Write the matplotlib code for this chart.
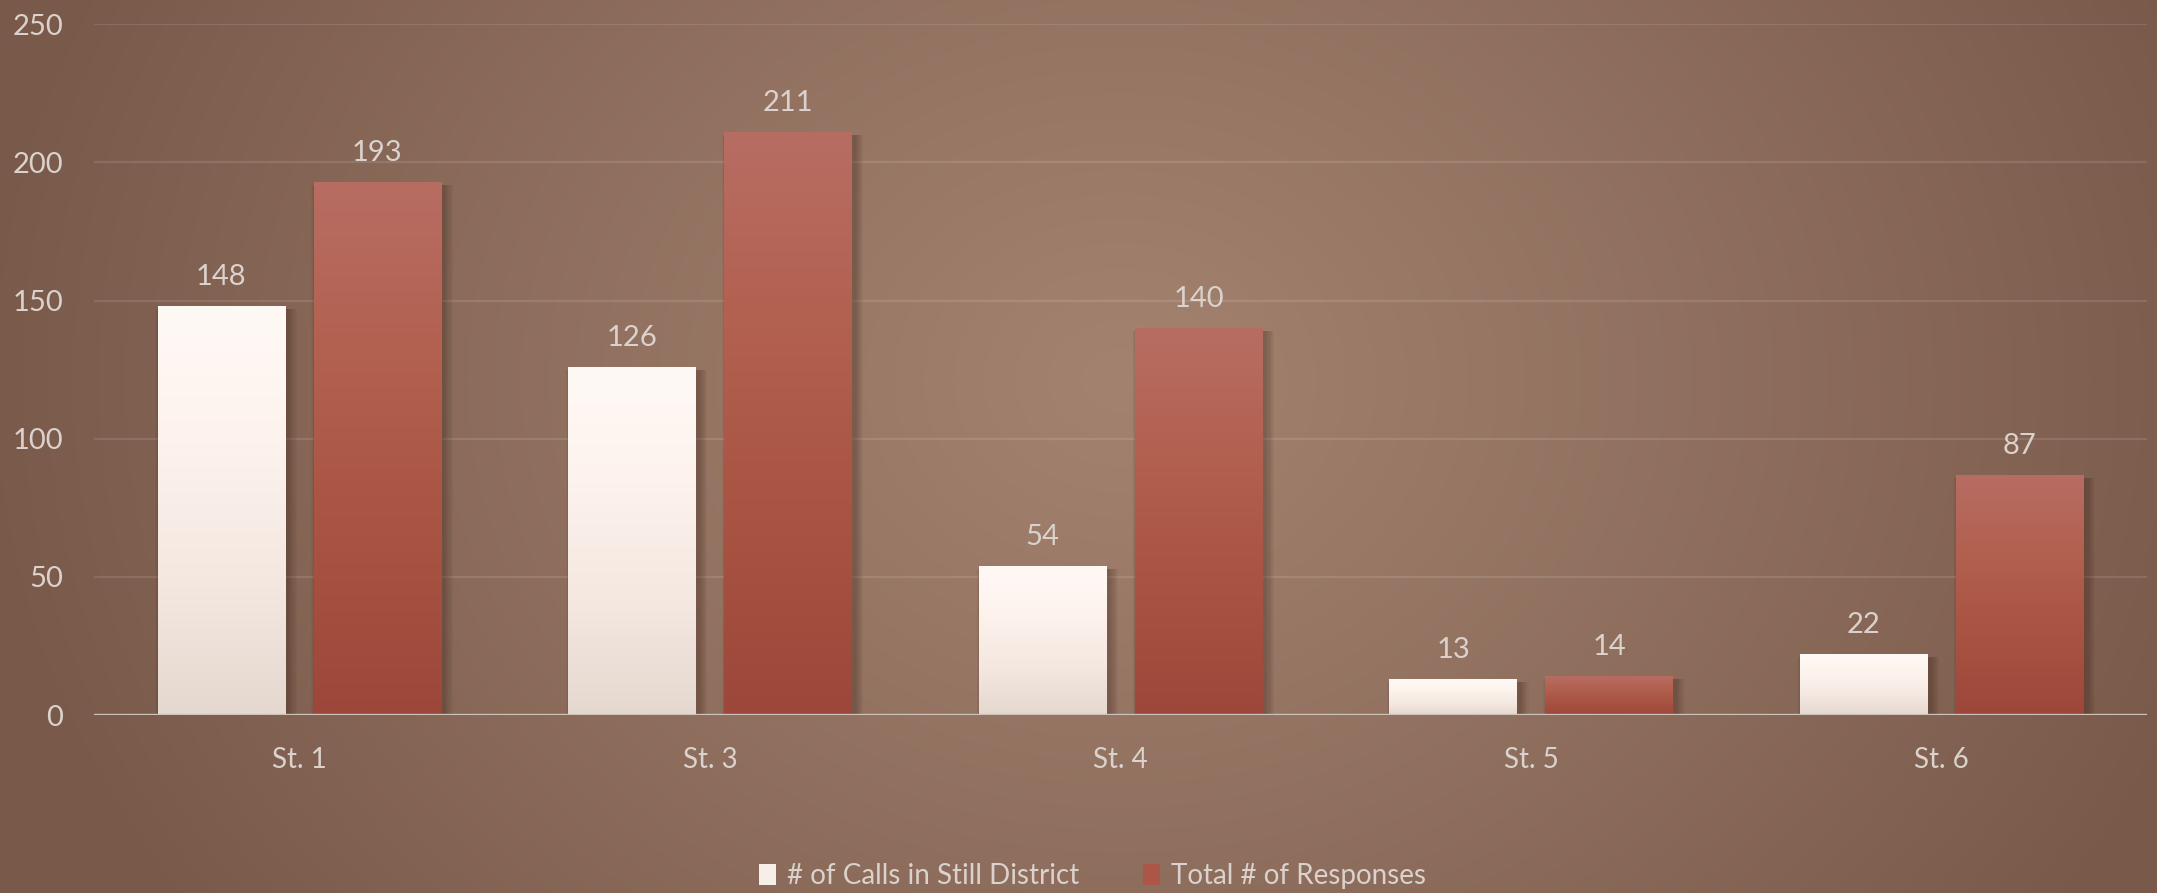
import numpy as np
import matplotlib
matplotlib.use("Agg")
import matplotlib.pyplot as plt
from matplotlib.patches import Rectangle
from matplotlib.colors import LinearSegmentedColormap

# ---- data ----
stations = ["St. 1", "St. 3", "St. 4", "St. 5", "St. 6"]
calls_in_district = [148, 126, 54, 13, 22]
total_responses = [193, 211, 140, 14, 87]
series_names = ["# of Calls in Still District", "Total # of Responses"]
y_ticks = [0, 50, 100, 150, 200, 250]

plt.rcParams["font.family"] = ["Lato", "DejaVu Sans"]
TEXT = "#dbd2cd"
FONT_SIZE = 21
WEIGHT = "normal"

W, H = 2157, 893
fig = plt.figure(figsize=(W / 100, H / 100), dpi=100)

# ---- radial background ----
bg_ax = fig.add_axes([0, 0, 1, 1], zorder=-10)
yy, xx = np.mgrid[0:H, 0:W]
cx, cy = 1120, 380
d = np.sqrt(((xx - cx) / 1150.0) ** 2 + ((yy - cy) / 950.0) ** 2)
d = np.clip(d, 0, 1)
c_in = np.array([163, 130, 111]) / 255.0
c_out = np.array([121, 89, 74]) / 255.0
img = c_in[None, None, :] + (c_out - c_in)[None, None, :] * d[..., None] ** 1.1
bg_ax.imshow(img, aspect="auto", extent=[0, 1, 0, 1], origin="upper")
bg_ax.set_axis_off()

# ---- main axes ----
ax = fig.add_axes([94 / W, 178 / H, (2147 - 94) / W, (868.7 - 178) / H])
ax.set_facecolor("none")
ax.set_xlim(-0.5, len(stations) - 0.5)
ax.set_ylim(0, 250)

for s in ax.spines.values():
    s.set_visible(False)

ax.set_yticks(y_ticks)
ax.set_yticklabels([str(t) for t in y_ticks])
ax.set_xticks(range(len(stations)))
ax.set_xticklabels(stations)
ax.tick_params(axis="both", length=0, colors=TEXT, labelsize=FONT_SIZE)
ax.tick_params(axis="y", pad=22)
ax.tick_params(axis="x", labelsize=20, pad=23)
for lbl in ax.get_xticklabels() + ax.get_yticklabels():
    lbl.set_fontweight(WEIGHT)

for t in y_ticks[1:]:
    ax.axhline(t, color="white", alpha=0.11, lw=1.6, zorder=0)
ax.axhline(0, color="#cfc2bb", lw=2.4, zorder=5)

width = 0.31
offset = 0.19
x = np.arange(len(stations))

white_cmap = LinearSegmentedColormap.from_list(
    "w", ["#e5d8cf", "#f4e8e1", "#fdf3ec", "#fff9f6"])
red_cmap = LinearSegmentedColormap.from_list(
    "r", ["#9c473a", "#a95342", "#b2604f", "#b86d63"])

fig.canvas.draw()
px_x = 1.0 / (ax.transData.transform((1, 0))[0] - ax.transData.transform((0, 0))[0])
px_y = 1.0 / (ax.transData.transform((0, 1))[1] - ax.transData.transform((0, 0))[1])

grad = np.linspace(0, 1, 256).reshape(-1, 1)


def draw_series(xpos, values, cmap):
    bars = ax.bar(xpos, values, width, color="none", edgecolor="none", zorder=3)
    for rect, v in zip(bars.patches, values):
        x0, w0 = rect.get_x(), rect.get_width()
        # soft drop shadow, mostly on the right
        for k in range(1, 9):
            grow = k * 1.1
            ax.add_patch(Rectangle(
                (x0 - grow * px_x * 0.6 + 3 * px_x, -grow * px_y * 0.3),
                w0 + 1.6 * grow * px_x, v - 3 * px_y + grow * px_y * 0.3,
                facecolor="#3a2219", edgecolor="none", alpha=0.045, zorder=2))
        im = ax.imshow(grad, cmap=cmap, origin="lower", aspect="auto",
                       extent=[x0, x0 + w0, 0, v], zorder=3)
        im.set_clip_path(rect)
        ax.annotate(str(v), (x0 + w0 / 2, v), xytext=(0, 15),
                    textcoords="offset points", ha="center", va="baseline",
                    color=TEXT, fontsize=FONT_SIZE, fontweight=WEIGHT, zorder=6)
    return bars


draw_series(x - offset, calls_in_district, white_cmap)
draw_series(x + offset, total_responses, red_cmap)
ax.set_xlim(-0.5, len(stations) - 0.5)
ax.set_ylim(0, 250)

# ---- legend ----
handles = [Rectangle((0, 0), 1, 1, facecolor="#f8eee8", edgecolor="none"),
           Rectangle((0, 0), 1, 1, facecolor="#ab5646", edgecolor="none")]
fig.legend(handles, series_names, loc="center", bbox_to_anchor=(0.5065, (H - 876) / H),
           ncol=2, frameon=False, labelcolor=TEXT,
           handlelength=0.6, handleheight=0.8, handletextpad=0.4, columnspacing=2.3,
           prop={"weight": WEIGHT, "size": 20})

fig.savefig("out.png", dpi=100)
